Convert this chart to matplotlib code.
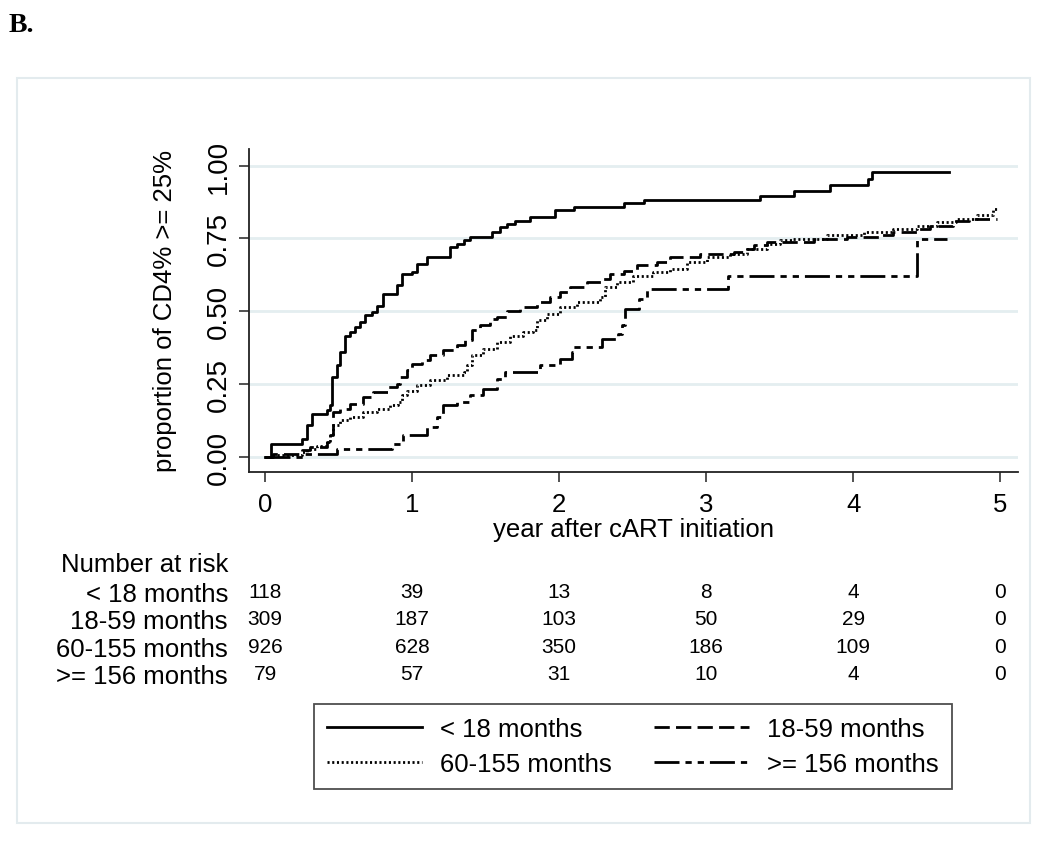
import matplotlib
matplotlib.use("Agg")
import matplotlib.pyplot as plt
import matplotlib.transforms as mtransforms
from matplotlib.patches import Rectangle

plt.rcParams['font.family'] = ['Liberation Sans', 'DejaVu Sans']
plt.rcParams['lines.scale_dashes'] = False

# ---------------- data ----------------
group_labels = ["< 18 months", "18-59 months", "60-155 months", ">= 156 months"]

t_lt18 = [0, 0.039, 0.249, 0.283, 0.317, 0.340, 0.420, 0.442, 0.458, 0.488, 0.510, 0.544,
          0.578, 0.612, 0.646, 0.680, 0.726, 0.760, 0.805, 0.900, 0.930, 0.998, 1.032,
          1.100, 1.259, 1.304, 1.350, 1.395, 1.542, 1.599, 1.644, 1.700, 1.800, 1.973,
          2.100, 2.440, 2.574, 3.367, 3.594, 3.843, 4.100, 4.130, 4.648]
p_lt18 = [0, 0.044, 0.061, 0.107, 0.147, 0.147, 0.160, 0.176, 0.272, 0.313, 0.359, 0.416,
          0.428, 0.445, 0.462, 0.485, 0.496, 0.519, 0.559, 0.590, 0.628, 0.634, 0.662,
          0.685, 0.720, 0.731, 0.743, 0.754, 0.771, 0.788, 0.800, 0.811, 0.823, 0.849,
          0.857, 0.871, 0.882, 0.897, 0.914, 0.932, 0.955, 0.977, 0.977]

t_18_59 = [0, 0.057, 0.249, 0.306, 0.420, 0.442, 0.465, 0.510, 0.578, 0.669, 0.737, 0.839,
           0.896, 0.918, 0.964, 0.998, 1.066, 1.122, 1.213, 1.304, 1.361, 1.406, 1.463,
           1.531, 1.576, 1.644, 1.735, 1.848, 1.939, 2.007, 2.075, 2.190, 2.300, 2.347,
           2.438, 2.528, 2.665, 2.755, 2.960, 3.186, 3.254, 3.322, 3.413, 3.730, 3.957,
           4.180, 4.270, 4.430, 4.520, 4.680, 4.790, 4.980]
p_18_59 = [0, 0.009, 0.021, 0.033, 0.050, 0.073, 0.153, 0.164, 0.181, 0.204, 0.222, 0.239,
           0.250, 0.273, 0.296, 0.319, 0.331, 0.348, 0.365, 0.382, 0.400, 0.434, 0.451,
           0.474, 0.480, 0.502, 0.513, 0.531, 0.548, 0.565, 0.582, 0.599, 0.610, 0.628,
           0.639, 0.657, 0.668, 0.685, 0.697, 0.703, 0.714, 0.726, 0.737, 0.749, 0.754,
           0.760, 0.771, 0.783, 0.794, 0.811, 0.817, 0.817]

t_60_155 = [0, 0.057, 0.249, 0.283, 0.351, 0.420, 0.442, 0.465, 0.510, 0.578, 0.669, 0.760,
            0.850, 0.907, 0.930, 0.964, 1.032, 1.122, 1.236, 1.350, 1.372, 1.406, 1.485,
            1.576, 1.667, 1.757, 1.825, 1.848, 1.916, 2.007, 2.120, 2.278, 2.313, 2.390,
            2.505, 2.640, 2.755, 2.868, 3.005, 3.160, 3.277, 3.413, 3.503, 3.590, 3.820,
            4.070, 4.270, 4.430, 4.570, 4.700, 4.840, 4.950, 4.980]
p_60_155 = [0, 0.004, 0.015, 0.027, 0.038, 0.055, 0.078, 0.107, 0.124, 0.136, 0.153, 0.164,
            0.176, 0.187, 0.210, 0.227, 0.245, 0.262, 0.279, 0.290, 0.313, 0.348, 0.371,
            0.394, 0.416, 0.428, 0.434, 0.468, 0.491, 0.513, 0.531, 0.548, 0.582, 0.599,
            0.622, 0.634, 0.645, 0.668, 0.685, 0.697, 0.714, 0.731, 0.743, 0.749, 0.760,
            0.771, 0.783, 0.794, 0.806, 0.817, 0.829, 0.851, 0.851]

t_ge156 = [0, 0.261, 0.488, 0.862, 0.941, 1.100, 1.168, 1.213, 1.304, 1.395, 1.485, 1.576,
           1.633, 1.871, 2.007, 2.086, 2.097, 2.290, 2.400, 2.426, 2.449, 2.540, 2.597,
           3.147, 4.433, 4.638]
p_ge156 = [0, 0.009, 0.027, 0.044, 0.073, 0.101, 0.136, 0.176, 0.187, 0.210, 0.233, 0.268,
           0.290, 0.313, 0.336, 0.359, 0.378, 0.405, 0.422, 0.451, 0.508, 0.542, 0.576,
           0.622, 0.749, 0.749]

risk_times = [0, 1, 2, 3, 4, 5]
risk_lt18 = [118, 39, 13, 8, 4, 0]
risk_18_59 = [309, 187, 103, 50, 29, 0]
risk_60_155 = [926, 628, 350, 186, 109, 0]
risk_ge156 = [79, 57, 31, 10, 4, 0]

x_ticks = [0, 1, 2, 3, 4, 5]
y_ticks = [0.0, 0.25, 0.5, 0.75, 1.0]
y_ticklabels = ["0.00", "0.25", "0.50", "0.75", "1.00"]

# ---------------- figure ----------------
W, H = 1050, 845
fig = plt.figure(figsize=(W / 100, H / 100), dpi=100)
fig.patch.set_facecolor('white')

def fx(px):
    return px / W

def fy(py):
    return 1 - py / H

# outer light frame
fig.patches.append(Rectangle((fx(17), fy(824)), fx(1030) - fx(17), fy(79) - fy(824),
                             transform=fig.transFigure, fill=False,
                             edgecolor='#e3ebee', lw=1.5))

fig.text(fx(9), fy(26), "B.", family=['Liberation Serif', 'DejaVu Serif'],
         fontweight='bold', fontsize=20, va='center', ha='left')

ax = fig.add_axes([fx(249), fy(473), fx(1018) - fx(249), fy(150) - fy(473)])
ax.set_xlim(-0.109, 5.12)
ax.set_ylim(-0.053, 1.057)

for s in ['top', 'right']:
    ax.spines[s].set_visible(False)
for s in ['left', 'bottom']:
    ax.spines[s].set_linewidth(1.3)
    ax.spines[s].set_color('#222222')

ax.set_yticks(y_ticks)
ax.set_yticklabels(y_ticklabels, rotation=90, va='center')
ax.set_xticks(x_ticks)
ax.tick_params(axis='both', direction='out', length=7.5, width=1.1, color='#222222')
ax.tick_params(axis='x', pad=7, labelsize=18.5)
ax.tick_params(axis='y', pad=5, labelsize=20)
ax.yaxis.grid(True, color='#e4eef0', lw=2)
ax.set_axisbelow(True)

ax.set_xlabel("year after cART initiation", fontsize=18.5)
ax.xaxis.set_label_coords(0.5, (473 - 530) / 323)
ax.xaxis.label.set_va('center')
ax.set_ylabel("proportion of CD4% >= 25%", fontsize=18.5)
ax.yaxis.set_label_coords((165 - 249) / 769, 0.5)
ax.yaxis.label.set_va('center')

lw = 2.0
l1, = ax.step(t_lt18, p_lt18, where='post', color='black', lw=lw, linestyle='-')
l2, = ax.step(t_18_59, p_18_59, where='post', color='black', lw=lw,
              linestyle=(0, (11, 4.5)))
l3, = ax.step(t_60_155, p_60_155, where='post', color='black', lw=2.0,
              linestyle=(0, (1.5, 1.9)))
l4, = ax.step(t_ge156, p_ge156, where='post', color='black', lw=lw,
              linestyle=(0, (18, 4.3, 4.5, 4.3, 4.5, 4.3)))

# ---------------- number at risk table ----------------
trans = mtransforms.blended_transform_factory(ax.transData, fig.transFigure)
fig.text(fx(228), fy(565), "Number at risk", ha='right', va='center', fontsize=18.5)
row_y = [595, 622, 650, 677]
risk_rows = [risk_lt18, risk_18_59, risk_60_155, risk_ge156]
for lab, yy, row in zip(group_labels, row_y, risk_rows):
    fig.text(fx(228), fy(yy), lab, ha='right', va='center', fontsize=18.5)
    for t, n in zip(risk_times, row):
        fig.text(t, fy(yy - 2), str(n), transform=trans, ha='center', va='center',
                 fontsize=15)

# ---------------- legend ----------------
handles = [l1, l3, l2, l4]
labels = [group_labels[0], group_labels[2], group_labels[1], group_labels[3]]
leg = fig.legend(handles, labels, ncol=2, loc='upper left',
                 bbox_to_anchor=(fx(314), fy(705)), bbox_transform=fig.transFigure,
                 frameon=True, fancybox=False, edgecolor='#222222', fontsize=18.5,
                 handlelength=3.7, handletextpad=0.7, columnspacing=1.65,
                 labelspacing=0.45, borderpad=0.5, borderaxespad=0)
leg.get_frame().set_linewidth(1.3)

fig.savefig("out.png", dpi=100, facecolor='white')
